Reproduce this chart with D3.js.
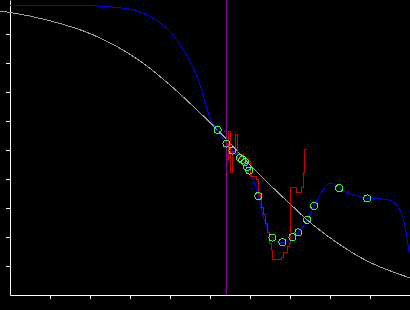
<!DOCTYPE html>
<html>
<head>
<meta charset="utf-8">
<script src="https://d3js.org/d3.v7.min.js"></script>
<style>
	body { margin: 0; background: #000; }
	svg { display: block; }
</style>
</head>
<body>
<div id="chart"></div>
<script>
// grey reference curve
const refX = [-0.25, 0, 0.925, 2.075, 3.25, 4.0, 4.675, 5.19, 6.125, 7.0, 7.43, 8.075, 8.875, 10.0];
const refY = [0.979, 0.974, 0.948, 0.897, 0.807, 0.724, 0.638, 0.569, 0.431, 0.314, 0.259, 0.19, 0.121, 0.059];

// blue fitted curve
const fitX = [0, 1.575, 2.25, 2.625, 2.875, 3.075, 3.25, 3.5, 3.75, 4.05, 4.325, 4.575, 4.775, 4.9, 5.025,
	5.19, 5.41, 5.56, 5.75, 5.875, 5.98, 6.1, 6.21, 6.33, 6.46, 6.56, 6.675, 6.81, 6.925, 7.06, 7.21, 7.43,
	7.605, 7.75, 7.875, 8.0, 8.125, 8.23, 8.375, 8.55, 8.75, 8.93, 9.175, 9.42, 9.575, 9.75, 9.825, 9.875, 9.925, 9.975];
const fitY = [0.999, 0.999, 0.996, 0.992, 0.988, 0.983, 0.975, 0.96, 0.938, 0.903, 0.845, 0.786, 0.714, 0.652, 0.603,
	0.569, 0.522, 0.498, 0.472, 0.459, 0.429, 0.39, 0.341, 0.27, 0.224, 0.198, 0.184, 0.181, 0.186, 0.199, 0.216, 0.259,
	0.307, 0.345, 0.372, 0.385, 0.381, 0.368, 0.357, 0.347, 0.34, 0.333, 0.332, 0.329, 0.321, 0.293, 0.266, 0.234, 0.197, 0.148];

// red raw steps
const rawX = [5.35, 5.4, 5.45, 5.51, 5.55, 5.64, 5.69, 5.75, 5.825, 5.9, 5.95, 6.01, 6.16, 6.21, 6.25, 6.29,
	6.33, 6.375, 6.44, 6.48, 6.525, 6.55, 6.79, 6.83, 6.925, 6.975, 7.02, 7.17, 7.29, 7.33, 7.36, 7.43];
const rawY = [0.562, 0.466, 0.562, 0.424, 0.493, 0.552, 0.472, 0.483, 0.466, 0.472, 0.459, 0.41, 0.397, 0.345, 0.334, 0.303,
	0.276, 0.248, 0.214, 0.179, 0.155, 0.121, 0.131, 0.148, 0.166, 0.179, 0.369, 0.352, 0.369, 0.421, 0.5, 0.5];

// green sample points
const ptX = [5.19, 5.41, 5.56, 5.75, 5.81, 5.875, 5.93, 5.98, 6.21, 6.56, 6.81, 7.06, 7.21, 7.43, 7.605, 8.23, 8.93];
const ptY = [0.569, 0.522, 0.498, 0.472, 0.466, 0.459, 0.441, 0.429, 0.341, 0.198, 0.182, 0.199, 0.216, 0.259, 0.307, 0.368, 0.333];

// purple marker
const markerX = 5.4125;

const xTicks = [1, 2, 3, 4, 5, 6, 7, 8, 9];
const yTicks = [0.1, 0.2, 0.3, 0.4, 0.5, 0.6, 0.7, 0.8, 0.9];

const width = 410;
const height = 310;
const left = 10;
const bottom = 295;

const svg = d3
	.select("#chart")
	.append("svg")
	.attr("width", width)
	.attr("height", height)
	.style("background", "#000");

const x = d3.scaleLinear().domain([0, 10]).range([left, width]);
const y = d3.scaleLinear().domain([0, 1.017]).range([bottom, 0]);

// axes
const xAxis = d3.axisBottom(x).tickValues(xTicks).tickSize(4).tickSizeOuter(0).tickFormat("");
const yAxis = d3.axisLeft(y).tickValues(yTicks).tickSize(4).tickSizeOuter(0).tickFormat("");

svg.append("g")
	.attr("class", "x-axis")
	.attr("transform", `translate(0, ${bottom})`)
	.call(xAxis);

svg.append("g")
	.attr("class", "y-axis")
	.attr("transform", `translate(${left}, 0)`)
	.call(yAxis);

svg.selectAll(".x-axis path, .y-axis path, .x-axis line, .y-axis line")
	.attr("stroke", "#fff")
	.attr("stroke-width", 1);

const toPts = (xs, ys) => xs.map((d, i) => [d, ys[i]]);

const smooth = d3.line()
	.x((d) => x(d[0]))
	.y((d) => y(d[1]))
	.curve(d3.curveMonotoneX);

const steps = d3.line()
	.x((d) => x(d[0]))
	.y((d) => y(d[1]))
	.curve(d3.curveStepAfter);

// old-school aliased look, like the original
const plot = svg.append("g").attr("shape-rendering", "crispEdges");

plot.append("path")
	.datum(toPts(refX, refY))
	.attr("d", smooth)
	.attr("fill", "none")
	.attr("stroke", "#a0a0a0")
	.attr("stroke-width", 1);

plot.append("path")
	.datum(toPts(fitX, fitY))
	.attr("d", smooth)
	.attr("fill", "none")
	.attr("stroke", "#0000ff")
	.attr("stroke-width", 1);

plot.append("path")
	.datum(toPts(rawX, rawY))
	.attr("d", steps)
	.attr("fill", "none")
	.attr("stroke", "#d00000")
	.attr("stroke-width", 1);

plot.append("line")
	.attr("x1", x(markerX))
	.attr("x2", x(markerX))
	.attr("y1", 0)
	.attr("y2", bottom)
	.attr("stroke", "#9000a0")
	.attr("stroke-width", 1);

plot.append("g")
	.selectAll("circle")
	.data(toPts(ptX, ptY))
	.enter()
	.append("circle")
	.attr("cx", (d) => x(d[0]))
	.attr("cy", (d) => y(d[1]))
	.attr("r", 3.5)
	.attr("fill", "none")
	.attr("stroke", "#33ff33")
	.attr("stroke-width", 1);
</script>
</body>
</html>
